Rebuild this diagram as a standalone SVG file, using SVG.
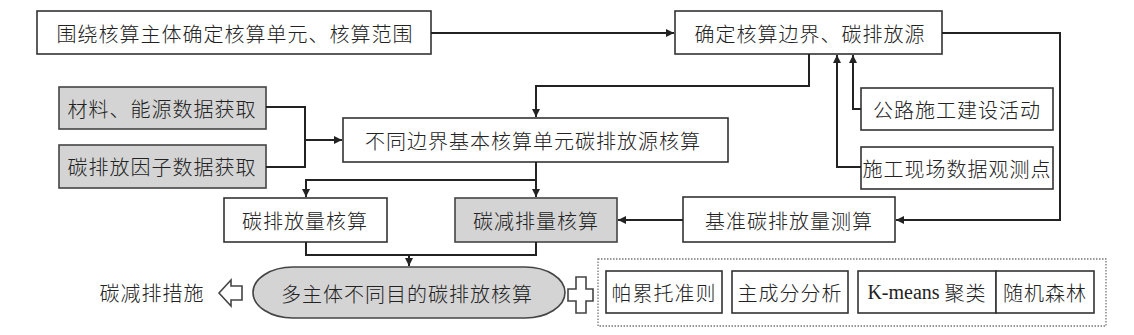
<svg xmlns="http://www.w3.org/2000/svg" width="1134" height="335" viewBox="0 0 1134 335">
<style>
.box{fill:#fff;stroke:#333;stroke-width:1.6}
.gray{fill:#d4d4d4;stroke:#444;stroke-width:1.6}
.t{font-family:"Noto Sans CJK SC","Noto Sans",sans-serif;font-size:20px;font-weight:300;letter-spacing:1px;fill:#222;text-anchor:middle;dominant-baseline:central}
.ln{fill:none;stroke:#222;stroke-width:2}
.dot{fill:none;stroke:#777;stroke-width:1.3;stroke-dasharray:1.5 1.5}
</style>
<defs>
<marker id="ah" viewBox="0 0 10 10" refX="10" refY="5" markerWidth="4.5" markerHeight="4" orient="auto" markerUnits="strokeWidth">
<path d="M0,0 L10,5 L0,10 z" fill="#222"/>
</marker>
</defs>
<g id="n1"><rect class="box" x="37" y="11" width="394" height="43"/><text class="t" x="235" y="33">围绕核算主体确定核算单元、核算范围</text></g>
<g id="n2"><rect class="box" x="675" y="11" width="267" height="43"/><text class="t" x="810" y="33">确定核算边界、碳排放源</text></g>
<g id="n3"><rect class="gray" x="59" y="87" width="207" height="42"/><text class="t" x="162" y="108" letter-spacing="0.3">材料、能源数据获取</text></g>
<g id="n4"><rect class="gray" x="59" y="145" width="207" height="43"/><text class="t" x="162" y="166">碳排放因子数据获取</text></g>
<g id="n5"><rect class="box" x="343" y="118" width="385" height="44"/><text class="t" x="533" y="140">不同边界基本核算单元碳排放源核算</text></g>
<g id="n6"><rect class="box" x="861" y="88" width="192" height="42"/><text class="t" x="957" y="109">公路施工建设活动</text></g>
<g id="n7"><rect class="box" x="861" y="147" width="192" height="42"/><text class="t" x="957" y="168">施工现场数据观测点</text></g>
<g id="n8"><rect class="box" x="224" y="198" width="163" height="44"/><text class="t" x="305" y="220">碳排放量核算</text></g>
<g id="n9"><rect class="gray" x="455" y="198" width="162" height="44"/><text class="t" x="536" y="220">碳减排量核算</text></g>
<g id="n10"><rect class="box" x="683" y="197" width="212" height="45"/><text class="t" x="789" y="220">基准碳排放量测算</text></g>
<g id="n11"><rect class="gray" x="253" y="267" width="312" height="51" rx="40" ry="25.5"/><text class="t" x="407" y="293">多主体不同目的碳排放核算</text></g>
<g id="n12"><text class="t" x="152" y="292">碳减排措施</text>
<path d="M219,293 L231,280 L231,286 L242,286 L242,300 L231,300 L231,306 Z" fill="#fff" stroke="#444" stroke-width="1.6"/></g>
<g id="n13"><path d="M576,277 L586,277 L586,289 L593,289 L593,301 L586,301 L586,313 L576,313 L576,301 L568,301 L568,289 L576,289 Z" fill="#fff" stroke="#444" stroke-width="1.6"/></g>
<g id="n14"><rect class="dot" x="598" y="259" width="508" height="67"/>
<rect class="box" x="606" y="271" width="116" height="42"/><text class="t" x="664" y="292">帕累托准则</text>
<rect class="box" x="732" y="271" width="116" height="42"/><text class="t" x="790" y="292">主成分分析</text>
<rect class="box" x="858" y="271" width="138" height="42"/><text class="t" x="927" y="292"><tspan font-family="Liberation Serif" letter-spacing="0">K-means </tspan>聚类</text>
<rect class="box" x="996" y="271" width="98" height="42"/><text class="t" x="1045" y="292">随机森林</text></g>
<g id="connectors">
<path class="ln" d="M431,33 L674,33" marker-end="url(#ah)"/>
<path class="ln" d="M809,54 L809,86 L536,86 L536,117" marker-end="url(#ah)"/>
<path class="ln" d="M942,33 L1060,33 L1060,220 L896,220" marker-end="url(#ah)"/>
<path class="ln" d="M683,220 L618,220" marker-end="url(#ah)"/>
<path class="ln" d="M861,109 L853,109 L853,55" marker-end="url(#ah)"/>
<path class="ln" d="M861,167 L837,167 L837,55" marker-end="url(#ah)"/>
<path class="ln" d="M266,107 L305,107 L305,167 L266,167"/>
<path class="ln" d="M305,140 L342,140" marker-end="url(#ah)"/>
<path class="ln" d="M536,162 L536,197" marker-end="url(#ah)"/>
<path class="ln" d="M536,180 L306,180 L306,197" marker-end="url(#ah)"/>
<path class="ln" d="M306,242 L306,255 L536,255 L536,242"/>
<path class="ln" d="M409,255 L409,266" marker-end="url(#ah)"/>
</g>
</svg>
